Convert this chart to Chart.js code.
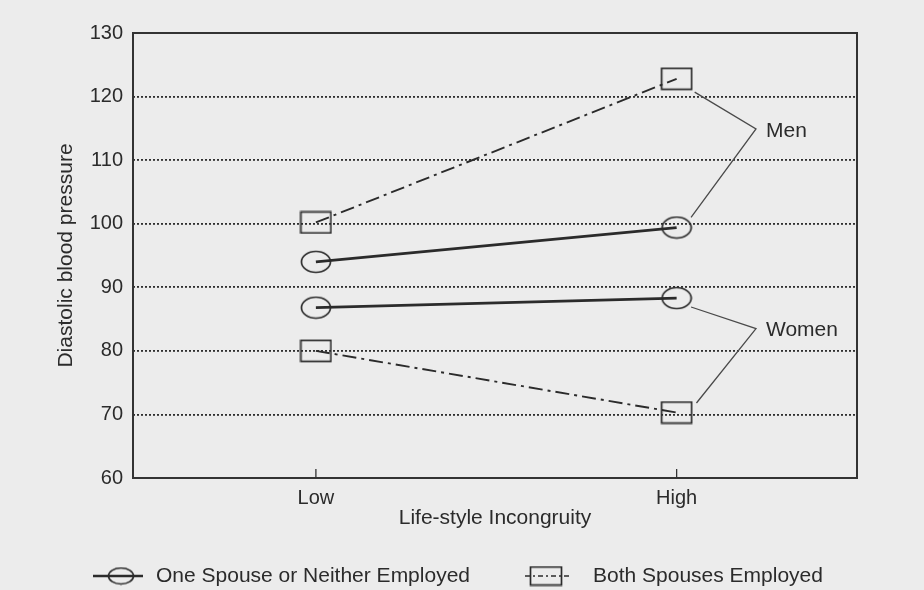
<!DOCTYPE html>
<html>
<head>
<meta charset="utf-8">
<script src="https://cdn.jsdelivr.net/npm/chart.js@4/dist/chart.umd.min.js"></script>
<style>
  html, body { margin: 0; padding: 0; background: #ececec; }
  #wrap { width: 924px; height: 590px; position: relative; }
</style>
</head>
<body>
<div id="wrap"><canvas id="bpChart"></canvas></div>
<script>
// data
const levels = ['Low', 'High'];
const seriesNames = ['One Spouse or Neither Employed', 'Both Spouses Employed'];
const menOneEmployed = [94, 99.4];
const womenOneEmployed = [86.8, 88.3];
const menBothEmployed = [100.2, 122.8];
const womenBothEmployed = [80, 70.3];
const yTicks = [60, 70, 80, 90, 100, 110, 120, 130];
const groupNames = ['Men', 'Women'];
// callout brackets (x in level units, y in mmHg)
const menCallout = [[1.05, 120.7], [1.22, 114.9], [1.04, 101]];
const womenCallout = [[1.04, 86.9], [1.22, 83.5], [1.055, 71.8]];

const ink = '#2b2b2b';
const font = '"Liberation Sans", Arial, sans-serif';

function makeMarker(shape, w, h) {
  const c = document.createElement('canvas');
  c.width = w + 3; c.height = h + 3;
  const g = c.getContext('2d');
  g.strokeStyle = ink;
  g.lineWidth = 1.7;
  if (shape === 'ellipse') {
    g.beginPath();
    g.ellipse((w + 3) / 2, (h + 3) / 2, w / 2, h / 2, 0, 0, Math.PI * 2);
    g.stroke();
  } else {
    g.strokeRect(1.5, 1.5, w, h);
  }
  return c;
}
const ellipseMark = makeMarker('ellipse', 29, 21);
const squareMark = makeMarker('rect', 30, 21);

const toPts = arr => arr.map((v, i) => ({ x: i, y: v }));
const toXY = arr => arr.map(p => ({ x: p[0], y: p[1] }));

function seriesSet(label, values, dashed) {
  return {
    label: label,
    data: toPts(values),
    borderColor: ink,
    borderWidth: dashed ? 1.9 : 2.8,
    borderDash: dashed ? [14, 5, 3, 5] : [],
    pointStyle: dashed ? squareMark : ellipseMark,
    pointRadius: 12,
    tension: 0
  };
}
function calloutSet(pts) {
  return {
    label: '',
    data: toXY(pts),
    borderColor: '#4a4a4a',
    borderWidth: 1.3,
    pointRadius: 0,
    tension: 0
  };
}

const decor = {
  id: 'decor',
  beforeDraw(chart) {
    const { ctx, width, height } = chart;
    ctx.save();
    ctx.fillStyle = '#ececec';
    ctx.fillRect(0, 0, width, height);
    ctx.restore();
  },
  afterDraw(chart) {
    const { ctx, chartArea: a, scales: { x, y } } = chart;
    ctx.save();
    // frame
    ctx.strokeStyle = '#333';
    ctx.lineWidth = 2;
    ctx.strokeRect(a.left, a.top, a.right - a.left, a.bottom - a.top);
    // inward ticks on x axis
    ctx.lineWidth = 1.3;
    levels.forEach((_, i) => {
      const px = x.getPixelForValue(i);
      ctx.beginPath();
      ctx.moveTo(px, a.bottom);
      ctx.lineTo(px, a.bottom - 9);
      ctx.stroke();
    });
    // Men / Women labels at callout vertices
    ctx.fillStyle = ink;
    ctx.font = '21px ' + font;
    ctx.textBaseline = 'middle';
    [menCallout, womenCallout].forEach((c, i) => {
      ctx.fillText(groupNames[i], x.getPixelForValue(c[1][0]) + 10, y.getPixelForValue(c[1][1]) + 2);
    });
    // legend
    const ly = 576;
    const items = [
      { x0: 93, x1: 143, cx: 121, dash: [], lw: 2.4, tx: 156 },
      { x0: 525, x1: 572, cx: 546, dash: [5, 3, 2, 3], lw: 1.6, tx: 593 }
    ];
    items.forEach((it, i) => {
      ctx.strokeStyle = ink;
      ctx.lineWidth = it.lw;
      ctx.setLineDash(it.dash);
      ctx.beginPath();
      ctx.moveTo(it.x0, ly);
      ctx.lineTo(it.x1, ly);
      ctx.stroke();
      ctx.setLineDash([]);
      const m = i === 0 ? makeMarker('ellipse', 25, 16) : makeMarker('rect', 31, 18);
      ctx.drawImage(m, it.cx - m.width / 2, ly - m.height / 2);
      ctx.fillStyle = ink;
      ctx.textAlign = 'left';
      ctx.fillText(seriesNames[i], it.tx, ly);
    });
    ctx.restore();
  }
};

new Chart(document.getElementById('bpChart'), {
  type: 'line',
  data: {
    datasets: [
      seriesSet(seriesNames[0], menOneEmployed, false),
      seriesSet(seriesNames[0], womenOneEmployed, false),
      seriesSet(seriesNames[1], menBothEmployed, true),
      seriesSet(seriesNames[1], womenBothEmployed, true),
      calloutSet(menCallout),
      calloutSet(womenCallout)
    ]
  },
  options: {
    responsive: true,
    maintainAspectRatio: false,
    animation: false,
    layout: { padding: { left: 0, right: 67, top: 33, bottom: 0 } },
    plugins: {
      legend: { display: false },
      tooltip: { enabled: false }
    },
    scales: {
      x: {
        type: 'linear',
        min: -0.507,
        max: 1.5,
        afterBuildTicks: s => { s.ticks = levels.map((_, i) => ({ value: i })); },
        afterFit: s => { s.height = 112; },
        ticks: {
          callback: v => levels[v],
          color: ink,
          font: { family: font, size: 20 },
          padding: 8,
          maxRotation: 0
        },
        grid: { display: false, drawTicks: false },
        border: { display: false },
        title: {
          display: true,
          text: 'Life-style Incongruity',
          color: ink,
          font: { family: font, size: 21 },
          padding: { top: 0, bottom: 59 }
        }
      },
      y: {
        min: 60,
        max: 130,
        afterBuildTicks: s => { s.ticks = yTicks.map(v => ({ value: v })); },
        afterFit: s => { s.width = 133; },
        ticks: {
          color: ink,
          font: { family: font, size: 20 },
          padding: 10
        },
        grid: {
          drawTicks: false,
          color: c => (c.tick && (c.tick.value === 60 || c.tick.value === 130)) ? 'rgba(0,0,0,0)' : '#2f2f2f',
          lineWidth: 1.8
        },
        border: { display: false, dash: [2, 2] },
        title: {
          display: true,
          text: 'Diastolic blood pressure',
          color: ink,
          font: { family: font, size: 21 },
          padding: { top: 54, bottom: 0 }
        }
      }
    }
  },
  plugins: [decor]
});
</script>
</body>
</html>
